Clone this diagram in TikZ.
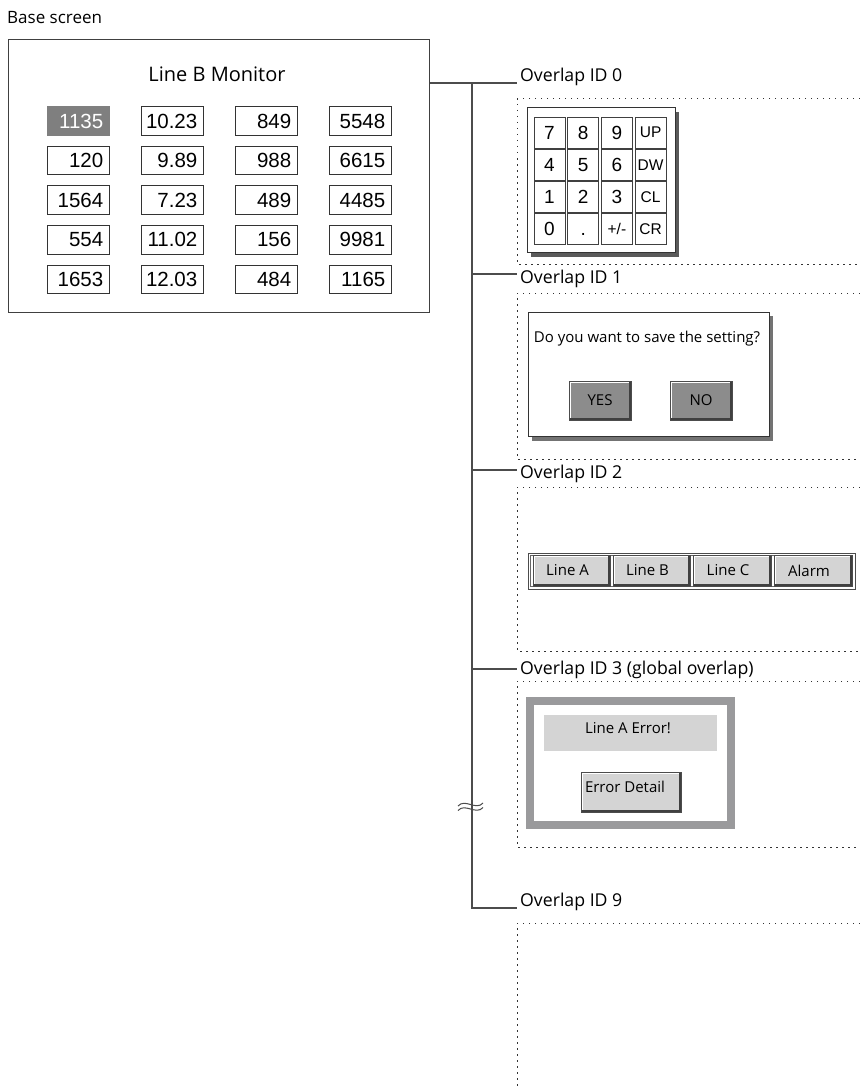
\documentclass[tikz,border=0pt]{standalone}
\usepackage{fontspec}
\setmainfont{Open Sans}
\newfontfamily\arialf{Liberation Sans}
\newcommand\uif{\fontsize{15}{18}\selectfont}
\newcommand\labf{\fontsize{17.7}{20}\selectfont}
\newcommand\bslf{\fontsize{17}{20}\selectfont}
\newcommand\bigk{\arialf\fontsize{19}{22}\selectfont}
\newcommand\smk{\arialf\fontsize{15.5}{18}\selectfont}
\newcommand\kkey[5]{\node[keyb,font=#5] (#1) at ({549.5+33.7*(#2-1)},{132.5+32.2*(#3-1)}) {\vphantom{0}#4};}
\newcommand\bevel[1]{%
  \draw[white,line width=1pt] ([shift={(1.8pt,1.8pt)}]#1.south west) |- ([shift={(-1.8pt,-1.8pt)}]#1.north east);
  \draw[black!75,line width=1.5pt] ([shift={(1.8pt,1.2pt)}]#1.south west) -| ([shift={(-1.2pt,-1.8pt)}]#1.north east);}
\definecolor{hlgray}{HTML}{7F7F7F}
\definecolor{btngray}{HTML}{8C8C8C}
\definecolor{ltgray}{HTML}{D4D4D4}
\definecolor{framegray}{HTML}{9A9A9C}
\definecolor{shadowgray}{HTML}{5A5A5A}
\begin{document}
\begin{tikzpicture}[x=1pt,y=-1pt,line join=miter,
  conn/.style={draw=black!70,line width=1.2pt},
  dotbox/.style={draw=black!80,line width=1pt,dash pattern=on 1.5pt off 4.5pt},
  cell/.style={draw=black!80,line width=1pt,minimum width=62pt,minimum height=28.5pt,inner sep=0pt},
  num/.style={font=\arialf\fontsize{20.5}{24}\selectfont,inner sep=0pt},
  keyb/.style={draw=black!75,line width=0.9pt,fill=white,minimum width=31pt,minimum height=31pt,inner sep=0pt},
  lab/.style={font=\labf,inner sep=0pt},
  btn/.style={draw=black!70,line width=0.8pt,inner sep=0pt,font=\uif}]
\useasboundingbox (0,0) rectangle (859,1086);

% ---------- base screen ----------
\node[font=\bslf,inner sep=0pt,anchor=base west] (bslab) at (7,24) {Base screen};
\node[draw=black!75,line width=1pt,fill=white,minimum width=421pt,minimum height=272pt,inner sep=0pt] (base) at (218.5,176) {};
\node[font=\fontsize{20}{24}\selectfont] (title) at (217,74) {Line B Monitor};
\foreach [count=\i] \row in {{1135,10.23,849,5548},{120,9.89,988,6615},{1564,7.23,489,4485},{554,11.02,156,9981},{1653,12.03,484,1165}}{
  \foreach [count=\j] \v in \row {
    \node[cell] (c\i\j) at ({78+94*(\j-1)},{121+39.6*(\i-1)}) {};
    \node[num,anchor=east] (t\i\j) at ([xshift=-6pt]c\i\j.east) {\v};
  }
}
\node[fill=hlgray,minimum width=63pt,minimum height=29.5pt,inner sep=0pt] (hl) at (c11) {};
\node[num,anchor=east,text=white] (hlt) at ([xshift=-6pt]c11.east) {1135};

% ---------- connectors ----------
\coordinate (j0) at (472,83);  \coordinate (e0) at (517,83);
\coordinate (j1) at (472,274); \coordinate (e1) at (517,274);
\coordinate (j2) at (472,470); \coordinate (e2) at (517,470);
\coordinate (j3) at (472,669); \coordinate (e3) at (517,669);
\coordinate (j9) at (472,908); \coordinate (e9) at (517,908);
\draw[conn] (base.east |- j0) -- (e0);
\draw[conn] (j0) -- (j9) -- (e9);
\draw[conn] (j1) -- (e1);
\draw[conn] (j2) -- (e2);
\draw[conn] (j3) -- (e3);
% break mark
\draw[conn,line width=1pt] (458,806) .. controls (465,798) and (476,811) .. (483,803);
\draw[conn,line width=1pt] (458,810.5) .. controls (465,802.5) and (476,815.5) .. (483,807.5);

% ---------- labels ----------
\node[lab,anchor=base west] (l0) at (520,81.5) {Overlap ID 0};
\node[lab,anchor=base west] (l1) at (520,283) {Overlap ID 1};
\node[lab,anchor=base west] (l2) at (520,478.5) {Overlap ID 2};
\node[lab,anchor=base west] (l3) at (520,674) {Overlap ID 3 (global overlap)};
\node[lab,anchor=base west] (l9) at (520,906) {Overlap ID 9};

% ---------- dotted overlap areas ----------
\draw[dotbox] (860,99) -- (517,99) -- (517,264) -- (860,264);
\draw[dotbox] (860,293) -- (517,293) -- (517,459) -- (860,459);
\draw[dotbox] (860,487) -- (517,487) -- (517,651) -- (860,651);
\draw[dotbox] (860,681) -- (517,681) -- (517,847) -- (860,847);
\draw[dotbox] (860,923) -- (517,923) -- (517,1087);

% ---------- overlap 0: keypad ----------
\fill[shadowgray] (531,112) rectangle (679,256.5);
\node[draw=black!80,line width=1pt,fill=white,minimum width=148pt,minimum height=144pt,inner sep=0pt] (pad) at (601,180) {};
\kkey{k7}{1}{1}{7}{\bigk}
\kkey{k8}{2}{1}{8}{\bigk}
\kkey{k9}{3}{1}{9}{\bigk}
\kkey{kup}{4}{1}{UP}{\smk}
\kkey{k4}{1}{2}{4}{\bigk}
\kkey{k5}{2}{2}{5}{\bigk}
\kkey{k6}{3}{2}{6}{\bigk}
\kkey{kdw}{4}{2}{DW}{\smk}
\kkey{k1}{1}{3}{1}{\bigk}
\kkey{k2}{2}{3}{2}{\bigk}
\kkey{k3}{3}{3}{3}{\bigk}
\kkey{kcl}{4}{3}{CL}{\smk}
\kkey{k0}{1}{4}{0}{\bigk}
\kkey{kdot}{2}{4}{.}{\bigk}
\kkey{kpm}{3}{4}{+/-}{\smk}
\kkey{kcr}{4}{4}{CR}{\smk}

% ---------- overlap 1: dialog ----------
\fill[shadowgray!85] (532,316) rectangle (773,440.5);
\node[draw=black!80,line width=1pt,fill=white,minimum width=241pt,minimum height=124pt,inner sep=0pt] (dlg) at (648.5,374) {};
\node[font=\uif] (dlgt) at (647,339) {Do you want to save the setting?};
\node[btn,fill=btngray,minimum width=62pt,minimum height=39pt] (yes) at (600,400.5) {YES};
\node[btn,fill=btngray,minimum width=62pt,minimum height=39pt] (no) at (701,400.5) {NO};
\bevel{yes}\bevel{no}

% ---------- overlap 2: button bar ----------
\node[draw=black!70,line width=0.8pt,fill=white,minimum width=327pt,minimum height=36pt,inner sep=0pt] (bar) at (691.5,571) {};
\draw[black!60,line width=0.6pt] (530.5,555.5) rectangle (852.5,586.5);
\node[btn,fill=ltgray,minimum width=77pt,minimum height=31pt] (ba) at (571.5,570.5) {\hspace*{-8pt}Line A};
\node[btn,fill=ltgray,minimum width=77pt,minimum height=31pt] (bb) at (651.5,570.5) {\hspace*{-8pt}Line B};
\node[btn,fill=ltgray,minimum width=78pt,minimum height=31pt] (bc) at (732,570.5) {\hspace*{-8pt}Line C};
\node[btn,fill=ltgray,minimum width=78pt,minimum height=31pt] (bal) at (813,570.5) {\hspace*{-8pt}Alarm};
\bevel{ba}\bevel{bb}\bevel{bc}\bevel{bal}

% ---------- overlap 3: error window ----------
\node[draw=framegray,line width=8pt,fill=white,minimum width=201pt,minimum height=124pt,inner sep=0pt] (errw) at (630.5,763) {};
\node[fill=ltgray,minimum width=173pt,minimum height=36pt,inner sep=0pt] (errbar) at (630.5,733) {};
\node[font=\uif] (errt) at (628,728) {Line A Error!};
\node[btn,fill=ltgray,minimum width=100pt,minimum height=40pt] (errb) at (631,792) {};
\bevel{errb}
\node[font=\uif] (errbt) at (625,786.5) {Error Detail};
\end{tikzpicture}
\end{document}
